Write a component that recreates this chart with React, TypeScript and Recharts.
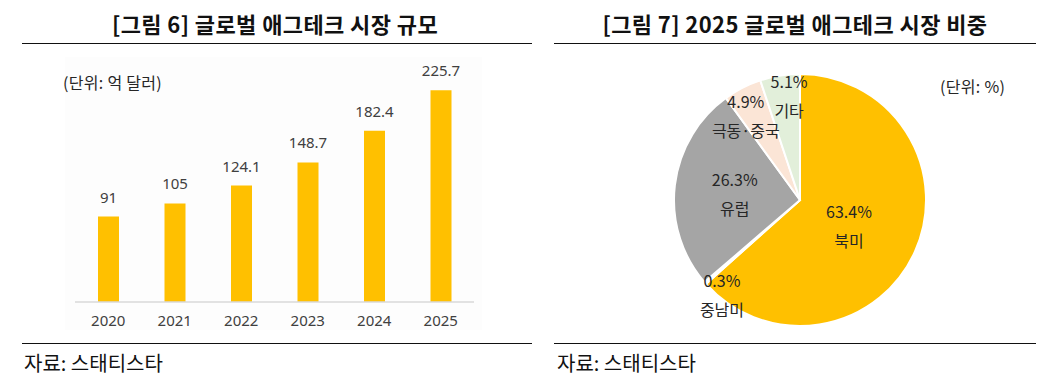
import React from "react";
import { Bar, BarChart, Cell, LabelList, Pie, PieChart, XAxis, YAxis } from "recharts";

const years = ["2020", "2021", "2022", "2023", "2024", "2025"];
const marketSize = [91, 105, 124.1, 148.7, 182.4, 225.7];

const regions = ["북미", "중남미", "유럽", "극동·중국", "기타"];
const regionShare = [63.4, 0.3, 26.3, 4.9, 5.1];
const regionColors = ["#FFC000", "#FFFFFF", "#A5A5A5", "#FBE5D6", "#E2EFDA"];

// label placement per slice (fraction of radius, angle nudge in degrees)
const labelRadius = [0.44, 0.976, 0.52, 0.79, 0.83];
const labelShift = [-3.8, 9.4, 1.4, 5.8, -3.2];

const FONT = "'Noto Sans', 'Noto Sans CJK KR', sans-serif";
const KFONT = "'Noto Sans CJK KR', sans-serif";
const RADIAN = Math.PI / 180;

const barData = years.map((y, i) => ({ year: y, value: marketSize[i] }));
const pieData = regions.map((r, i) => ({ name: r, value: regionShare[i] }));

function PieLabel(props: any) {
  const { cx, cy, midAngle, outerRadius, index } = props;
  const a = (midAngle + labelShift[index]) * RADIAN;
  const r = outerRadius * labelRadius[index];
  const x = cx + r * Math.cos(a);
  const y = cy - r * Math.sin(a);
  return (
    <text x={x} y={y} textAnchor="middle" fill="#262626" fontSize={16} fontFamily={KFONT}>
      <tspan x={x} dy={-8}>{regionShare[index].toFixed(1)}%</tspan>
      <tspan x={x} dy={29}>{regions[index]}</tspan>
    </text>
  );
}

const titleStyle: React.CSSProperties = {
  position: "absolute",
  top: 7,
  fontFamily: KFONT,
  fontWeight: 700,
  fontSize: 22,
  letterSpacing: 0.4,
  color: "#111",
  whiteSpace: "nowrap",
  transform: "translateX(-50%)",
};

const sourceStyle: React.CSSProperties = {
  position: "absolute",
  top: 348,
  fontFamily: KFONT,
  fontSize: 20,
  color: "#111",
  whiteSpace: "nowrap",
};

const unitStyle: React.CSSProperties = {
  position: "absolute",
  fontFamily: KFONT,
  fontSize: 16,
  letterSpacing: 0.3,
  color: "#262626",
  whiteSpace: "nowrap",
};

const rule = (left: number, top: number, width: number): React.CSSProperties => ({
  position: "absolute",
  left,
  top,
  width,
  height: 1.4,
  background: "#111",
});

export default function App() {
  return (
    <div style={{ position: "absolute", left: 0, top: 0, width: 1054, height: 389, background: "#fff", overflow: "hidden" }}>
      <div style={{ ...titleStyle, left: 275 }}>[그림 6] 글로벌 애그테크 시장 규모</div>
      <div style={{ ...titleStyle, left: 795 }}>[그림 7] 2025 글로벌 애그테크 시장 비중</div>
      <div style={rule(22, 42.5, 510)} />
      <div style={rule(554, 42.5, 482)} />
      <div style={rule(22, 342.5, 510)} />
      <div style={rule(554, 342.5, 482)} />
      <div style={{ ...sourceStyle, left: 24 }}>자료: 스태티스타</div>
      <div style={{ ...sourceStyle, left: 557 }}>자료: 스태티스타</div>

      <div style={{ position: "absolute", left: 65, top: 57, width: 417, height: 273, background: "#fdfdfd" }} />
      <div style={{ ...unitStyle, left: 63, top: 70 }}>(단위: 억 달러)</div>
      <div style={{ position: "absolute", left: 75, top: 30 }}>
        <BarChart width={399} height={310} data={barData} margin={{ top: 28, right: 0, left: 0, bottom: 0 }}>
          <YAxis hide domain={[0, 260]} />
          <XAxis
            dataKey="year"
            height={38}
            axisLine={{ stroke: "#D9D9D9", strokeWidth: 1.5 }}
            tickLine={false}
            tickMargin={7}
            tick={{ fill: "#404040", fontSize: 15, fontFamily: FONT }}
          />
          <Bar dataKey="value" fill="#FFC000" barSize={21} isAnimationActive={false}>
            <LabelList dataKey="value" position="top" offset={14} fill="#404040" fontSize={15} fontFamily={FONT} />
          </Bar>
        </BarChart>
      </div>

      <div style={{ ...unitStyle, left: 940, top: 74 }}>(단위: %)</div>
      <div style={{ position: "absolute", left: 527, top: 45 }}>
        <PieChart width={527} height={300}>
          <Pie
            data={pieData}
            dataKey="value"
            nameKey="name"
            cx={268}
            cy={150}
            outerRadius={126}
            startAngle={90}
            endAngle={-270}
            stroke="#FFFFFF"
            strokeWidth={2}
            labelLine={false}
            label={PieLabel}
            isAnimationActive={false}
          >
            {pieData.map((d, i) => (
              <Cell key={d.name} fill={regionColors[i]} />
            ))}
          </Pie>
        </PieChart>
      </div>
    </div>
  );
}
